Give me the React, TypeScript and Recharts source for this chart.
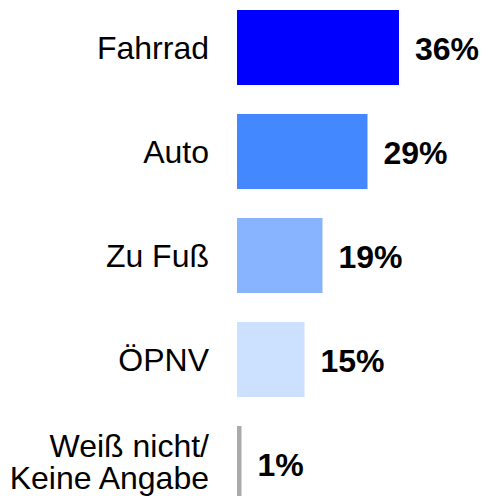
import React from "react";
import { BarChart, Bar, XAxis, YAxis, Cell, LabelList } from "recharts";

const categories = ["Fahrrad", "Auto", "Zu Fuß", "ÖPNV", "Weiß nicht/\nKeine Angabe"];
const values = [36, 29, 19, 15, 1];
const valueLabels = ["36%", "29%", "19%", "15%", "1%"];

const barColors = ["#0000FF", "#4488FF", "#88B4FF", "#CCE0FF", "#AAAAAA"];
const FONT = "'Liberation Sans', Arial, Helvetica, sans-serif";

const data = categories.map((name, i) => ({ name, value: values[i], label: valueLabels[i] }));

const CategoryTick = (props: any) => {
  const { x, y, payload } = props;
  const lines = String(payload.value).split("\n");
  if (lines.length === 1) {
    return (
      <text x={x} y={y + 11.5} textAnchor="end" fontFamily={FONT} fontSize={32} fill="#000">
        {lines[0]}
      </text>
    );
  }
  return (
    <text x={x} y={y} textAnchor="end" fontFamily={FONT} fontSize={32} fill="#000">
      <tspan x={x} y={y - 6.5}>{lines[0]}</tspan>
      <tspan x={x} y={y + 26}>{lines[1]}</tspan>
    </text>
  );
};

const ValueLabel = (props: any) => {
  const { x, y, width, height, index } = props;
  return (
    <text
      x={x + width + 16}
      y={y + height / 2 + 12}
      textAnchor="start"
      fontFamily={FONT}
      fontSize={32}
      fontWeight="bold"
      fill="#000"
    >
      {valueLabels[index]}
    </text>
  );
};

export default function App() {
  return (
    <div style={{ position: "absolute", top: -5, left: 0 }}>
      <BarChart
        width={481}
        height={520}
        data={data}
        layout="vertical"
        margin={{ top: 0, right: 64, bottom: 0, left: 0 }}
      >
        <XAxis type="number" domain={[0, 40]} hide />
        <YAxis
          type="category"
          dataKey="name"
          width={237}
          axisLine={false}
          tickLine={false}
          tickSize={0}
          tickMargin={28}
          tick={<CategoryTick />}
          interval={0}
        />
        <Bar dataKey="value" barSize={75} isAnimationActive={false}>
          {data.map((d, i) => (
            <Cell key={d.name} fill={barColors[i]} />
          ))}
          <LabelList dataKey="value" content={<ValueLabel />} />
        </Bar>
      </BarChart>
    </div>
  );
}
